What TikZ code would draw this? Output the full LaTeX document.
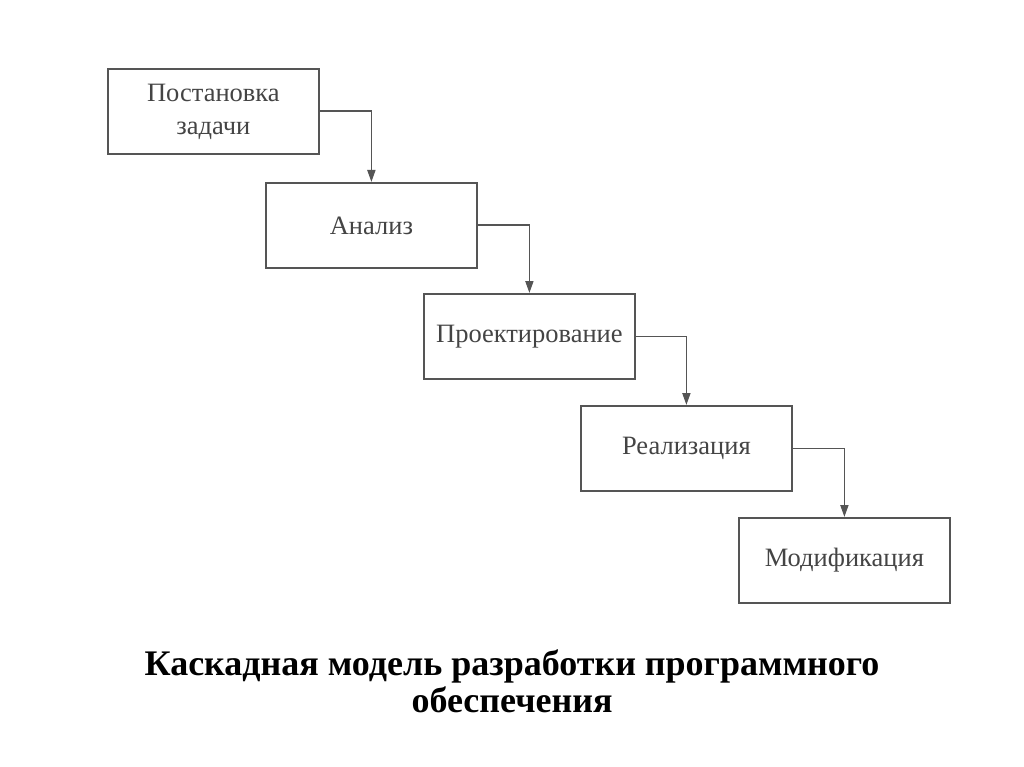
\documentclass[tikz,border=0pt]{standalone}
\usepackage{fontspec}
\setmainfont{Liberation Serif}
\usetikzlibrary{arrows.meta}
\definecolor{boxline}{HTML}{555555}
\definecolor{boxtext}{HTML}{444444}
\begin{document}
\begin{tikzpicture}[x=1pt,y=-1pt,
  stage/.style={draw=boxline, line width=1.8pt, minimum width=211pt, minimum height=85pt,
    anchor=north west, inner sep=0pt, text=boxtext, font=\fontsize{26.5}{33}\selectfont, align=center},
  flow/.style={draw=boxline, line width=1.8pt, -{Triangle[length=12pt,width=8pt]}}]
\useasboundingbox (0,0) rectangle (1024,767);
\fill[white] (0,0) rectangle (1024,767);
\node[stage] (s1) at (107,68) {Постановка\\задачи};
\node[stage] (s2) at (265,182) {Анализ};
\node[stage] (s3) at (423,293) {Проектирование};
\node[stage] (s4) at (580,405) {Реализация};
\node[stage] (s5) at (738,517) {Модификация};
\draw[flow] (s1.east) -| (s2.north);
\draw[flow] (s2.east) -| (s3.north);
\draw[flow] (s3.east) -| (s4.north);
\draw[flow] (s4.east) -| (s5.north);
\node[font=\bfseries\fontsize{36}{37}\selectfont, align=center, text=black] (cap) at (512,681)
  {Каскадная модель разработки программного\\обеспечения};
\end{tikzpicture}
\end{document}
